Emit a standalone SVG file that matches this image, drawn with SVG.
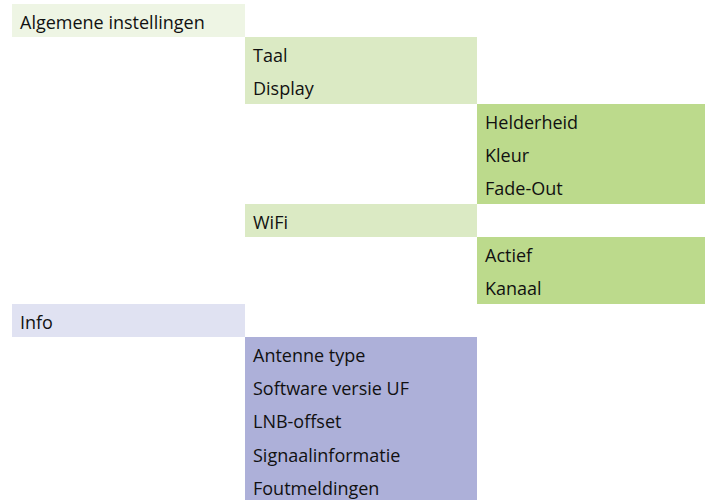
<svg xmlns="http://www.w3.org/2000/svg" width="705" height="500" viewBox="0 0 705 500">
<style>
text{font-family:"Open Sans","DejaVu Sans",sans-serif;font-size:18px;fill:#111}
rect{shape-rendering:crispEdges}
.a{fill:#eef5e4}.b{fill:#dbeac4}.c{fill:#bcda8c}.d{fill:#e0e2f2}.e{fill:#adb0d9}
</style>
<rect width="705" height="500" fill="#fff"/>
<g id="algemene"><rect class="a" x="12" y="4" width="233" height="33"/><text x="20" y="28.5">Algemene instellingen</text></g>
<g id="taal"><rect class="b" x="245" y="37" width="232" height="34"/><text x="253" y="62">Taal</text></g>
<g id="display"><rect class="b" x="245" y="71" width="232" height="33"/><text x="253" y="95">Display</text></g>
<g id="helderheid"><rect class="c" x="477" y="104" width="228" height="33"/><text x="485" y="128.5">Helderheid</text></g>
<g id="kleur"><rect class="c" x="477" y="137" width="228" height="33"/><text x="485" y="161.5">Kleur</text></g>
<g id="fadeout"><rect class="c" x="477" y="170" width="228" height="34"/><text x="485" y="195">Fade-Out</text></g>
<g id="wifi"><rect class="b" x="245" y="204" width="232" height="33"/><text x="253" y="228.5">WiFi</text></g>
<g id="actief"><rect class="c" x="477" y="237" width="228" height="33"/><text x="485" y="261.5">Actief</text></g>
<g id="kanaal"><rect class="c" x="477" y="270" width="228" height="34"/><text x="485" y="295">Kanaal</text></g>
<g id="info"><rect class="d" x="12" y="304" width="233" height="33"/><text x="20" y="328.5">Info</text></g>
<g id="antenne"><rect class="e" x="245" y="337" width="232" height="33"/><text x="253" y="361.5">Antenne type</text></g>
<g id="software"><rect class="e" x="245" y="370" width="232" height="33"/><text x="253" y="394.5">Software versie UF</text></g>
<g id="lnb"><rect class="e" x="245" y="403" width="232" height="34"/><text x="253" y="428">LNB-offset</text></g>
<g id="signaal"><rect class="e" x="245" y="437" width="232" height="33"/><text x="253" y="461.5">Signaalinformatie</text></g>
<g id="fout"><rect class="e" x="245" y="470" width="232" height="33"/><text x="253" y="494.5">Foutmeldingen</text></g>
<g id="connectors"/>
</svg>
